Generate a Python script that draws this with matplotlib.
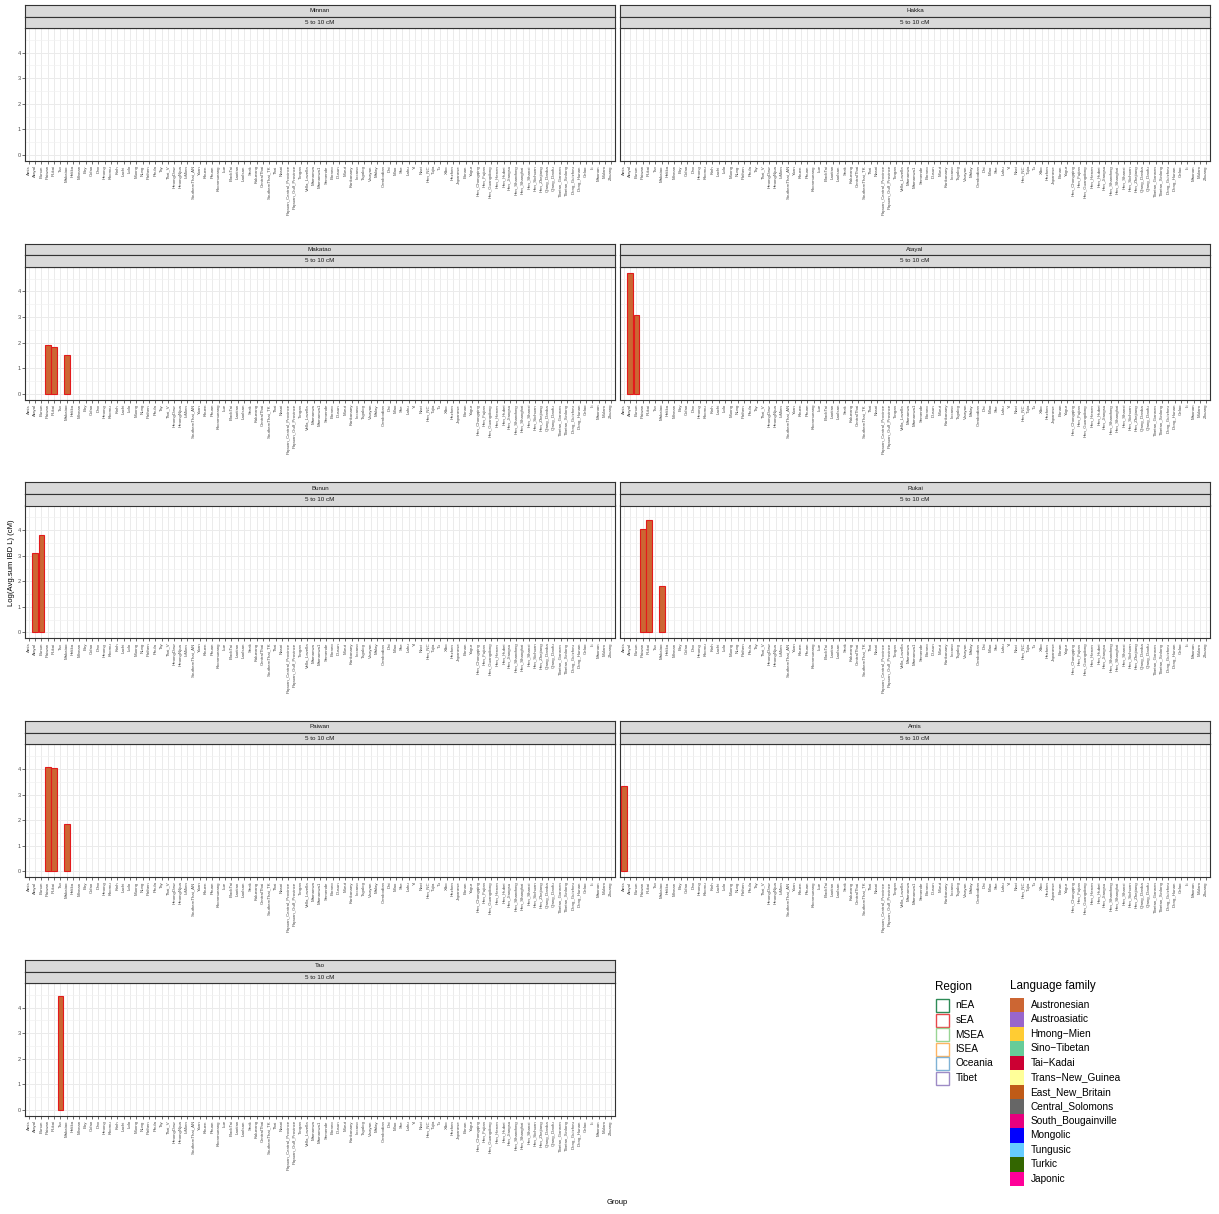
import numpy as np
import matplotlib.pyplot as plt
from matplotlib.patches import Rectangle

plt.rcParams['font.family'] = ['Liberation Sans', 'DejaVu Sans']

W, H = 1219, 1214

# x categories (same for every panel)
groups = ["Amis", "Atayal", "Bunun", "Paiwan", "Rukai", "Tao", "Makatao", "Hakka", "Minnan",
          "Boy", "Colao", "Dao", "Hmong", "Khomu", "Kinh", "Lachi", "Lolo", "Muong", "Nung",
          "Pathen", "Phula", "Tay", "Thai_V", "HmongDaw", "HmongNjua", "IuMien",
          "SouthernThai_AN", "Yuan", "Khuen", "Phuan", "Khonmueang", "Lue", "BlackTai",
          "Laotian", "LaoIsan", "Seak", "Kalueang", "CentralThai", "SouthernThai_TK", "Thai",
          "Nasoi", "Papuan_Central_Province", "Papuan_Gulf_Province", "Tongan", "Vella_Lavella",
          "Mamanwa", "Mamanwa1", "Semende", "Borneo", "Dusun", "Murut", "Kankanaey", "Ilocano",
          "Tagalog", "Visayan", "Malay", "Cambodian", "Dai", "Miao", "She", "Lahu", "Yi", "Naxi",
          "Han_NC", "Tujia", "Tu", "Xibo", "Hezhen", "Japanese", "Bonan", "Yugur",
          "Han_Chongqing", "Han_Fujian", "Han_Guangdong", "Han_Henan", "Han_Hubei",
          "Han_Jiangsu", "Han_Shandong", "Han_Shanghai", "Han_Shanxi", "Han_Sichuan",
          "Han_Zhejiang", "Qiang_Danba", "Qiang_Daofu", "Tibetan_Gannan", "Tibetan_Xinlong",
          "Dong_Guizhou", "Dong_Hunan", "Gelao", "Li", "Maonan", "Mulam", "Zhuang"]

panels = ["Minnan", "Hakka", "Makatao", "Atayal", "Bunun", "Rukai", "Paiwan", "Amis", "Tao"]
interval = "5 to 10 cM"

# non-empty bars per panel
minnan_groups, minnan_vals = [], []
hakka_groups, hakka_vals = [], []
makatao_groups = ["Paiwan", "Rukai", "Makatao"]
makatao_vals = [1.90, 1.83, 1.52]
atayal_groups = ["Atayal", "Bunun"]
atayal_vals = [4.73, 3.09]
bunun_groups = ["Atayal", "Bunun"]
bunun_vals = [3.10, 3.80]
rukai_groups = ["Paiwan", "Rukai", "Makatao"]
rukai_vals = [4.06, 4.41, 1.82]
paiwan_groups = ["Paiwan", "Rukai", "Makatao"]
paiwan_vals = [4.09, 4.05, 1.86]
amis_groups = ["Amis"]
amis_vals = [3.34]
tao_groups = ["Tao"]
tao_vals = [4.47]

panel_data = {
    "Minnan": (minnan_groups, minnan_vals),
    "Hakka": (hakka_groups, hakka_vals),
    "Makatao": (makatao_groups, makatao_vals),
    "Atayal": (atayal_groups, atayal_vals),
    "Bunun": (bunun_groups, bunun_vals),
    "Rukai": (rukai_groups, rukai_vals),
    "Paiwan": (paiwan_groups, paiwan_vals),
    "Amis": (amis_groups, amis_vals),
    "Tao": (tao_groups, tao_vals),
}

regions = ["nEA", "sEA", "MSEA", "ISEA", "Oceania", "Tibet"]
region_colors = ["#2E8B57", "#E8474B", "#99D594", "#FDB462", "#7FB2D5", "#9E8BC6"]
families = ["Austronesian", "Austroasiatic", "Hmong\u2212Mien", "Sino\u2212Tibetan", "Tai\u2212Kadai",
            "Trans\u2212New_Guinea", "East_New_Britain", "Central_Solomons", "South_Bougainville",
            "Mongolic", "Tungusic", "Turkic", "Japonic"]
family_colors = ["#CC6633", "#9966CC", "#FFCC33", "#66CC99", "#CC0033", "#FFFF99", "#BF5B17",
                 "#666666", "#E7007E", "#0000FF", "#66CCFF", "#336600", "#FF0099"]

bar_fill = family_colors[0]   # all bars Austronesian
bar_edge = "#E31A1C"          # sEA


def box(x0, y0, x1, y1):
    return [x0 / W, 1 - y1 / H, (x1 - x0) / W, (y1 - y0) / H]


fig = plt.figure(figsize=(W / 100, H / 100), dpi=100)

n = len(groups)
all_vals = [v for g, vals in panel_data.values() for v in vals]
ymax = max(all_vals)
ylo, yhi = -0.05 * ymax, ymax * 1.05
col_x = [(25, 615), (620, 1210)]
strip_h = 11.5

for i, name in enumerate(panels):
    row, col = divmod(i, 2)
    x0, x1 = col_x[col]
    top = 28 + 238.75 * row
    bot = top + 133
    ax = fig.add_axes(box(x0, top, x1, bot))
    g, vals = panel_data[name]
    idx = [groups.index(k) for k in g]
    ax.bar(idx, vals, width=0.9, color=bar_fill, edgecolor=bar_edge, linewidth=0.8, zorder=3)
    ax.set_xlim(-0.6, n - 0.4)
    ax.set_ylim(ylo, yhi)
    ax.set_xticks(range(n))
    ax.set_xticklabels(groups, rotation=90, fontsize=3.2, color="#4D4D4D")
    ax.set_yticks([0, 1, 2, 3, 4])
    ax.set_yticklabels(["0", "1", "2", "3", "4"], fontsize=4, color="#4D4D4D")
    ax.set_yticks(np.arange(0.5, 5, 1), minor=True)
    ax.grid(True, which="major", color="#EBEBEB", lw=0.7)
    ax.grid(True, which="minor", axis="y", color="#F2F2F2", lw=0.5)
    ax.set_axisbelow(True)
    ax.tick_params(which="major", length=2, width=0.5, color="#333333", pad=1)
    ax.tick_params(which="minor", length=0)
    if col == 1:
        # y axis only on the left column (facet_wrap)
        ax.tick_params(axis="y", which="both", length=0, labelleft=False)
    for s in ax.spines.values():
        s.set_color("#333333")
        s.set_linewidth(0.8)

    # facet strips
    for k, (label, y0) in enumerate([(name, top - 2 * strip_h), (interval, top - strip_h)]):
        sax = fig.add_axes(box(x0, y0, x1, y0 + strip_h))
        sax.set_facecolor("#D9D9D9")
        sax.set_xticks([])
        sax.set_yticks([])
        for s in sax.spines.values():
            s.set_color("#333333")
            s.set_linewidth(0.8)
        sax.text(0.5, 0.5, label, fontsize=4.5, color="#1A1A1A", ha="center", va="center",
                 transform=sax.transAxes)

fig.text(12 / W, 1 - 563 / H, "Log(Avg.sum IBD L) (cM)", rotation=90, fontsize=5.5,
         ha="center", va="center")
fig.text(617 / W, 1 - 1202 / H, "Group", fontsize=5.5, ha="center", va="center")

# legend
lax = fig.add_axes(box(920, 970, 1219, 1195))
lax.set_xlim(920, 1219)
lax.set_ylim(1195, 970)
lax.axis("off")
lax.text(935, 987, "Region", fontsize=8.4, ha="left", va="center")
for k, (r, c) in enumerate(zip(regions, region_colors)):
    y = 998.5 + 14.5 * k
    lax.add_patch(Rectangle((936, y + 0.5), 13, 13, facecolor="white", edgecolor=c, lw=1))
    lax.text(955.5, y + 7, r, fontsize=7.3, ha="left", va="center")
lax.text(1010, 986, "Language family", fontsize=8.4, ha="left", va="center")
for k, (f, c) in enumerate(zip(families, family_colors)):
    y = 997.5 + 14.5 * k
    lax.add_patch(Rectangle((1010, y), 14, 14.5, facecolor=c, edgecolor="none"))
    lax.text(1030.5, y + 7.2, f, fontsize=7.3, ha="left", va="center")

fig.savefig("out.png", dpi=100)
